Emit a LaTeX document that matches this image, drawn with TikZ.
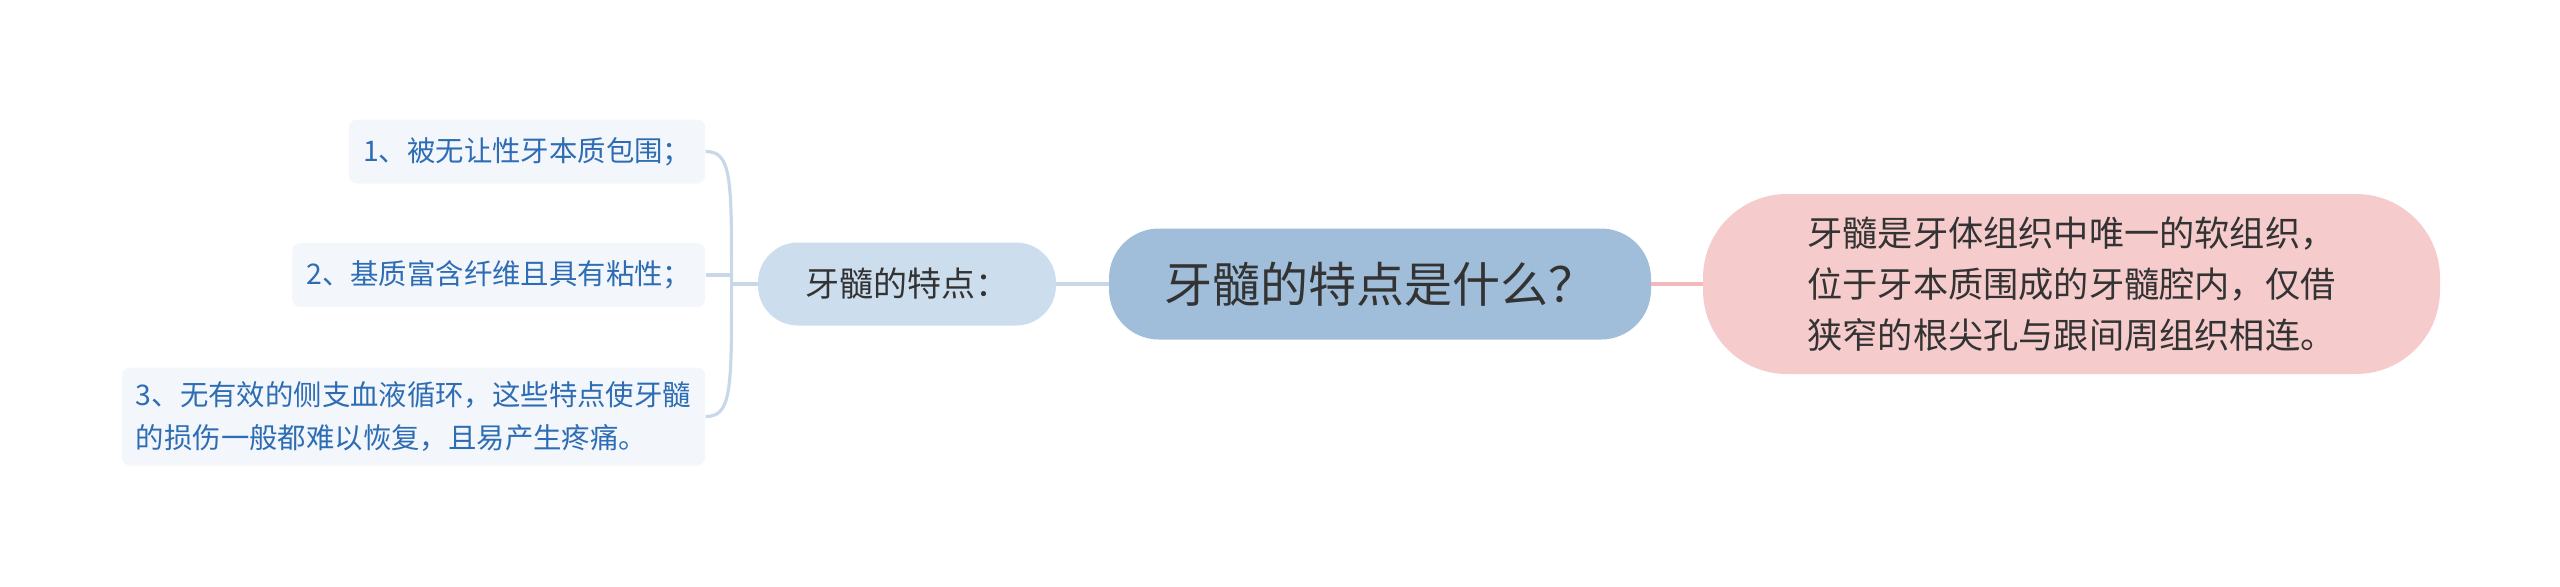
\documentclass[tikz,border=0pt]{standalone}
\usepackage{fontspec}
\newfontfamily\cjkfont{Noto Sans CJK SC}
\usetikzlibrary{positioning}

\definecolor{rootfill}{HTML}{A0BEDA}
\definecolor{subfill}{HTML}{CCDDEE}
\definecolor{leaffill}{HTML}{F3F7FC}
\definecolor{leaftext}{HTML}{2E6DB4}
\definecolor{notefill}{HTML}{F5CBCC}
\definecolor{darktext}{HTML}{333333}
\definecolor{blueline}{HTML}{C8D8E8}
\definecolor{pinkline}{HTML}{F2B8BB}

\tikzset{
  root/.style={fill=rootfill, rounded corners=25pt, minimum width=271pt,
    minimum height=55.5pt, text=darktext, font=\cjkfont\fontsize{24pt}{28pt}\selectfont},
  sub/.style={fill=subfill, rounded corners=20pt, minimum width=149pt,
    minimum height=41.5pt, text=darktext, font=\cjkfont\fontsize{17pt}{20pt}\selectfont},
  note/.style={fill=notefill, rounded corners=42pt, minimum width=368.5pt,
    minimum height=90pt, text=darktext, align=left,
    font=\cjkfont\fontsize{17.6pt}{25.5pt}\selectfont},
  leaf/.style={fill=leaffill, rounded corners=4pt, inner xsep=7pt,
    minimum height=32pt, text=leaftext, align=left,
    font=\cjkfont\fontsize{14.2pt}{21.3pt}\selectfont},
  branch/.style={draw=blueline, line width=1.6pt},
  pinkbranch/.style={draw=pinkline, line width=1.6pt}
}

\begin{document}
\begin{tikzpicture}[node distance=3cm, on grid]
  \useasboundingbox (0,0) rectangle (1280pt,-293pt);
  \node[root] (0) at (690pt,-142pt) {牙髓的特点是什么？};
  \node[sub, left=236.5pt of 0] (1) {牙髓的特点：};
  \node[note, right=345.75pt of 0] (2) {牙髓是牙体组织中唯一的软组织，\\位于牙本质围成的牙髓腔内，仅借\\狭窄的根尖孔与跟间周组织相连。};
  \node[leaf, anchor=east] (3) at ([shift={(-26pt,66.25pt)}]1.west) {1、被无让性牙本质包围；};
  \node[leaf, anchor=east] (4) at ([shift={(-26pt,4.5pt)}]1.west) {2、基质富含纤维且具有粘性；};
  \node[leaf, anchor=east, minimum height=49pt] (5) at ([shift={(-26pt,-66.25pt)}]1.west) {3、无有效的侧支血液循环，这些特点使牙髓\\的损伤一般都难以恢复，且易产生疼痛。};
  \coordinate (hub) at ([xshift=-13pt]1.west);
  \path[branch] (0) edge (1);
  \path[pinkbranch] (0) edge (2);
  \draw[branch] (1.west) -- (hub);
  \draw[branch] (hub) -- ++(0,10pt) .. controls +(0,45pt) and +(12pt,0) .. (3.east);
  \draw[branch] (hub) -- ++(0,-10pt) .. controls +(0,-45pt) and +(12pt,0) .. (5.east);
  \draw[branch] (4.east) -- (4.east -| hub);
\end{tikzpicture}
\end{document}
